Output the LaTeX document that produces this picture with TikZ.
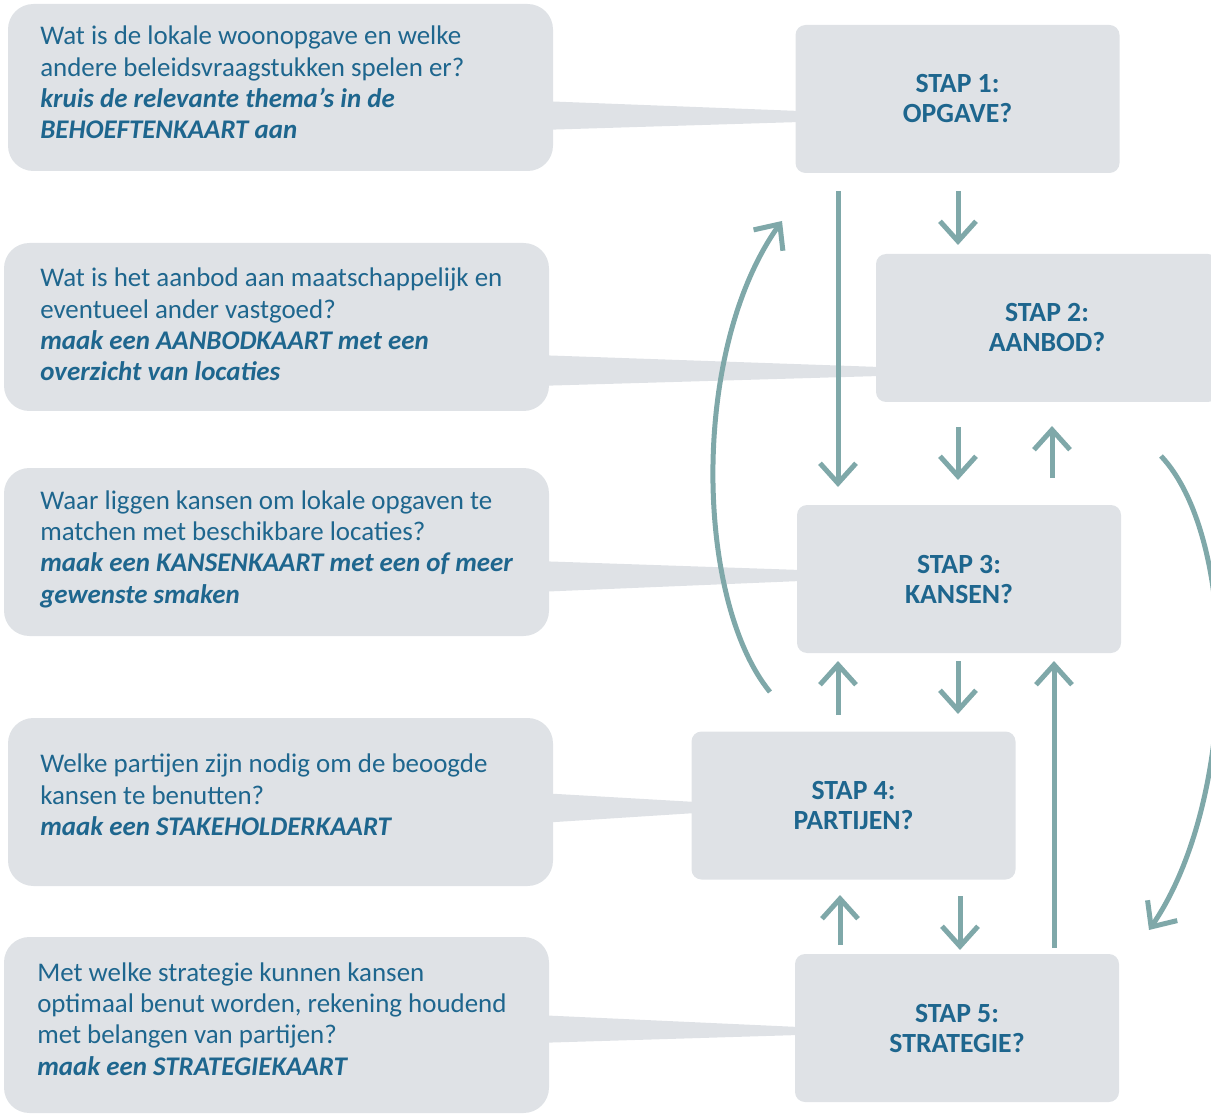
\documentclass[tikz,border=0pt]{standalone}
\usepackage{fontspec}
\setmainfont{Carlito}
\usetikzlibrary{arrows.meta,calc}
\definecolor{boxgray}{RGB}{223,226,230}
\definecolor{txtblue}{RGB}{30,102,142}
\definecolor{arrteal}{RGB}{127,168,169}
\begin{document}
\begin{tikzpicture}[x=0.75pt,y=-0.75pt,
  bubble/.style={fill=boxgray, rounded corners=19pt, inner sep=0pt, minimum width=408.75pt},
  stepbox/.style={fill=boxgray, rounded corners=7.5pt, inner sep=0pt, text=txtblue, align=center,
     minimum width=243pt, minimum height=111pt, font=\fontsize{20.8}{22.5}\selectfont\bfseries},
  qtext/.style={anchor=base west, align=left, inner sep=0pt, text=txtblue, font=\fontsize{20.2}{23.5}\selectfont},
  tail/.style={fill=boxgray},
  arr/.style={draw=arrteal, line width=3.75pt, -{Straight Barb[length=15pt,width=27pt]}}
]
\useasboundingbox (0,0) rectangle (1211,1116);
\clip (0,0) rectangle (1211,1116);

% question bubbles
\node[bubble, minimum height=125.25pt] (b1) at (280.5,87.5) {};
\node[bubble, minimum height=126pt] (b2) at (276.5,327) {};
\node[bubble, minimum height=126pt] (b3) at (276.5,552) {};
\node[bubble, minimum height=126pt] (b4) at (280.5,802) {};
\node[bubble, minimum height=132pt] (b5) at (276.5,1025) {};

% step boxes
\node[stepbox] (s1) at (957.5,99) {STAP 1:\\OPGAVE?};
\node[stepbox, minimum width=256.5pt] (s2) at (1047,328) {STAP 2:\\AANBOD?};
\node[stepbox] (s3) at (959,579) {STAP 3:\\KANSEN?};
\node[stepbox] (s4) at (853.5,805.5) {STAP 4:\\PARTIJEN?};
\node[stepbox] (s5) at (957,1028) {STAP 5:\\STRATEGIE?};

% tails from bubbles to steps
\fill[tail] (540,101) -- (800,111) -- (800,122) -- (540,130) -- cycle;
\fill[tail] (536,355) -- (880,367) -- (880,376) -- (536,386) -- cycle;
\fill[tail] (536,561) -- (801,570) -- (801,581) -- (536,592) -- cycle;
\fill[tail] (540,793) -- (696,802) -- (696,813) -- (540,823) -- cycle;
\fill[tail] (536,1015) -- (799,1027) -- (799,1035) -- (536,1043) -- cycle;

% question texts (anchored at the baseline of their last line)
\node[qtext] (q1) at (40,139) {Wat is de lokale woonopgave en welke\\andere beleidsvraagstukken spelen er?\\\textbf{\textit{kruis de relevante thema’s in de}}\\\textbf{\textit{BEHOEFTENKAART aan}}};
\node[qtext] (q2) at (40,381) {Wat is het aanbod aan maatschappelijk en\\eventueel ander vastgoed?\\\textbf{\textit{maak een AANBODKAART met een}}\\\textbf{\textit{overzicht van locaties}}};
\node[qtext] (q3) at (40,603) {Waar liggen kansen om lokale opgaven te\\matchen met beschikbare locaties?\\\textbf{\textit{maak een KANSENKAART met een of meer}}\\\textbf{\textit{gewenste smaken}}};
\node[qtext] (q4) at (40,835.5) {Welke partijen zijn nodig om de beoogde\\kansen te benutten?\\\textbf{\textit{maak een STAKEHOLDERKAART}}};
\node[qtext] (q5) at (37,1075) {Met welke strategie kunnen kansen\\optimaal benut worden, rekening houdend\\met belangen van partijen?\\\textbf{\textit{maak een STRATEGIEKAART}}};

% arrow end points
\coordinate (a1s) at (838,191);  \coordinate (a1e) at (838,487);
\coordinate (a2s) at (958,191);  \coordinate (a2e) at (958,245);
\coordinate (a3s) at (958,427);  \coordinate (a3e) at (958,480);
\coordinate (a4s) at (1052,478); \coordinate (a4e) at (1052,426);
\coordinate (a5s) at (838,715);  \coordinate (a5e) at (838,661);
\coordinate (a6s) at (958,661);  \coordinate (a6e) at (958,714);
\coordinate (a7s) at (1054,948); \coordinate (a7e) at (1054,661);
\coordinate (a8s) at (840,945);  \coordinate (a8e) at (840,895);
\coordinate (a9s) at (960,896);  \coordinate (a9e) at (960,950);
\coordinate (c1s) at (770,692);  \coordinate (c1e) at (782,221);
\coordinate (c2s) at (1161,456); \coordinate (c2e) at (1149,930);

\draw[arr] (a1s) -- (a1e);
\draw[arr] (a2s) -- (a2e);
\draw[arr] (a3s) -- (a3e);
\draw[arr] (a4s) -- (a4e);
\draw[arr] (a5s) -- (a5e);
\draw[arr] (a6s) -- (a6e);
\draw[arr] (a7s) -- (a7e);
\draw[arr] (a8s) -- (a8e);
\draw[arr] (a9s) -- (a9e);
\draw[arr] (c1s) .. controls (695,600) and (690,350) .. (c1e);
\draw[arr] (c2s) .. controls (1240,540) and (1238,800) .. (c2e);
\end{tikzpicture}
\end{document}
